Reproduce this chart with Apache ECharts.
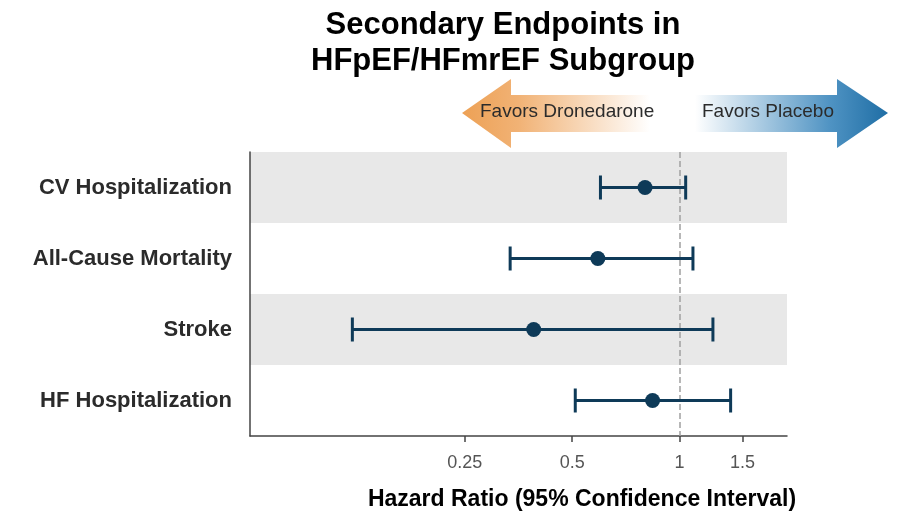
<!DOCTYPE html>
<html>
<head>
<meta charset="utf-8">
<script src="https://cdn.jsdelivr.net/npm/echarts@6/dist/echarts.min.js"></script>
<style>
  html, body { margin: 0; padding: 0; background: #fff; }
  #chart { width: 900px; height: 516px; }
</style>
</head>
<body>
<div id="chart"></div>
<script>
// endpoints, top to bottom
const endpoints = ['CV Hospitalization', 'All-Cause Mortality', 'Stroke', 'HF Hospitalization']
// hazard ratios and 95% CI bounds
const hazardRatio = [0.80, 0.59, 0.39, 0.84]
const ciLower = [0.60, 0.335, 0.121, 0.51]
const ciUpper = [1.04, 1.09, 1.24, 1.39]
const xTicks = [0.25, 0.5, 1, 1.5]

const navy = '#0e3a58'
const myEchart = echarts.init(document.getElementById('chart'))

const option = {
  animation: false,
  title: {
    text: 'Secondary Endpoints in\nHFpEF/HFmrEF Subgroup',
    left: 498,
    top: 2,
    textAlign: 'center',
    textStyle: {
      fontFamily: 'Liberation Sans, Arial',
      fontSize: 31,
      fontWeight: 'bold',
      color: '#000',
      lineHeight: 36
    }
  },
  grid: {
    left: 250,
    right: 113,
    top: 152,
    bottom: 80
  },
  xAxis: {
    type: 'log',
    logBase: 2,
    min: 0.0625,
    max: 2,
    name: 'Hazard Ratio (95% Confidence Interval)',
    nameLocation: 'middle',
    nameGap: 52,
    nameTextStyle: {
      fontFamily: 'Liberation Sans, Arial',
      fontSize: 23,
      fontWeight: 'bold',
      color: '#000',
      padding: [0, 0, 0, 127] // 把标题往右挪
    },
    axisLine: { show: true, lineStyle: { color: '#444', width: 1.5 } },
    axisTick: { show: true, customValues: xTicks, length: 6, lineStyle: { color: '#444', width: 1.5 } },
    axisLabel: {
      customValues: xTicks,
      margin: 18,
      fontFamily: 'Liberation Sans, Arial',
      fontSize: 18,
      color: '#555'
    },
    splitLine: { show: false }
  },
  yAxis: {
    type: 'category',
    data: endpoints,
    inverse: true,
    axisLine: { show: true, lineStyle: { color: '#444', width: 1.5 } },
    axisTick: { show: false },
    axisLabel: {
      margin: 18,
      fontFamily: 'Liberation Sans, Arial',
      fontSize: 22,
      fontWeight: 'bold',
      color: '#2b2b2b'
    },
    splitArea: {
      show: true,
      areaStyle: { color: ['#e8e8e8', '#ffffff'] }
    }
  },
  graphic: [
    {
      type: 'polygon',
      shape: { points: [[462, 113], [511, 79], [511, 95], [650, 95], [650, 132], [511, 132], [511, 148]] },
      style: {
        fill: new echarts.graphic.LinearGradient(0, 0, 1, 0, [
          { offset: 0, color: '#eda155' },
          { offset: 0.3, color: '#f1b275' },
          { offset: 1, color: '#ffffff' }
        ])
      },
      z: 1
    },
    {
      type: 'polygon',
      shape: { points: [[695, 95], [837, 95], [837, 79], [888, 113], [837, 148], [837, 132], [695, 132]] },
      style: {
        fill: new echarts.graphic.LinearGradient(0, 0, 1, 0, [
          { offset: 0, color: '#ffffff' },
          { offset: 0.7, color: '#4f93c3' },
          { offset: 1, color: '#1f6ea5' }
        ])
      },
      z: 1
    },
    {
      type: 'text',
      left: 480,
      top: 102,
      style: {
        text: 'Favors Dronedarone',
        fontFamily: 'Liberation Sans, Arial',
        fontSize: 19,
        fill: '#2b2b2b'
      },
      z: 2
    },
    {
      type: 'text',
      left: 702,
      top: 102,
      style: {
        text: 'Favors Placebo',
        fontFamily: 'Liberation Sans, Arial',
        fontSize: 19,
        fill: '#2b2b2b'
      },
      z: 2
    }
  ],
  series: [
    {
      // 误差线 + 端帽
      type: 'custom',
      data: endpoints.map((name, i) => [ciLower[i], ciUpper[i], i]),
      encode: { x: [0, 1], y: 2 },
      renderItem: function (params, api) {
        const lo = api.coord([api.value(0), api.value(2)])
        const hi = api.coord([api.value(1), api.value(2)])
        const capH = 12
        const style = { stroke: navy, lineWidth: 3, fill: null }
        return {
          type: 'group',
          children: [
            { type: 'line', shape: { x1: lo[0], y1: lo[1], x2: hi[0], y2: hi[1] }, style },
            { type: 'line', shape: { x1: lo[0], y1: lo[1] - capH, x2: lo[0], y2: lo[1] + capH }, style },
            { type: 'line', shape: { x1: hi[0], y1: hi[1] - capH, x2: hi[0], y2: hi[1] + capH }, style }
          ]
        }
      },
      z: 3
    },
    {
      type: 'scatter',
      data: endpoints.map((name, i) => [hazardRatio[i], i]),
      symbol: 'circle',
      symbolSize: 15,
      itemStyle: { color: navy, opacity: 1 },
      z: 4,
      markLine: {
        silent: true,
        symbol: 'none',
        label: { show: false },
        lineStyle: { color: '#a0a0a0', type: 'dashed', width: 1.5 },
        data: [{ xAxis: 1 }],
        z: 2
      }
    }
  ]
}

myEchart.setOption(option)
</script>
</body>
</html>
